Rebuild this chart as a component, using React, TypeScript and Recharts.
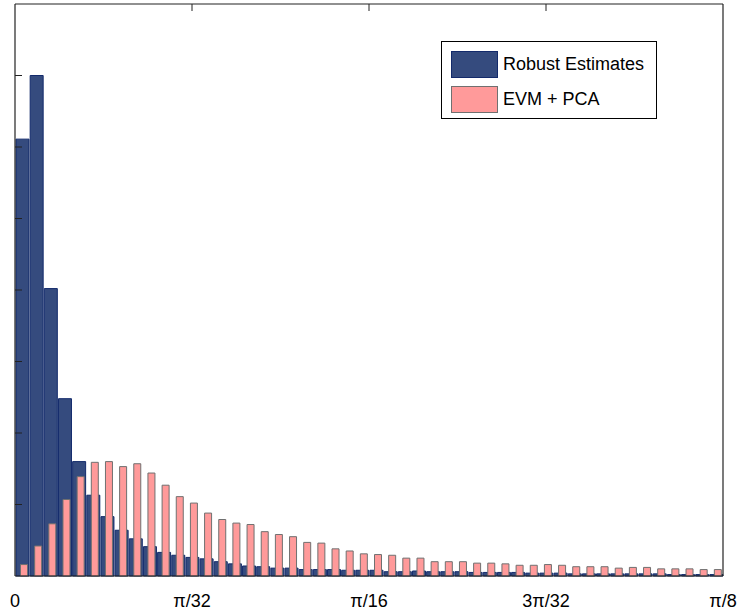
import { BarChart, Bar, XAxis, YAxis, Legend, Rectangle } from 'recharts';

// 50 histogram bins over [0, pi/8], positions given as bin-centre index
const BINS = [
  0.5, 1.5, 2.5, 3.5, 4.5, 5.5, 6.5, 7.5, 8.5, 9.5,
  10.5, 11.5, 12.5, 13.5, 14.5, 15.5, 16.5, 17.5, 18.5, 19.5,
  20.5, 21.5, 22.5, 23.5, 24.5, 25.5, 26.5, 27.5, 28.5, 29.5,
  30.5, 31.5, 32.5, 33.5, 34.5, 35.5, 36.5, 37.5, 38.5, 39.5,
  40.5, 41.5, 42.5, 43.5, 44.5, 45.5, 46.5, 47.5, 48.5, 49.5,
];

const ROBUST = [
  6.11, 7.0, 4.02, 2.48, 1.6, 1.13, 0.83, 0.64, 0.52, 0.41,
  0.33, 0.29, 0.26, 0.24, 0.2, 0.17, 0.14, 0.13, 0.11, 0.11,
  0.09, 0.09, 0.09, 0.08, 0.08, 0.08, 0.06, 0.06, 0.07, 0.06,
  0.06, 0.06, 0.05, 0.05, 0.05, 0.05, 0.04, 0.04, 0.04, 0.03,
  0.03, 0.03, 0.03, 0.03, 0.03, 0.03, 0.02, 0.02, 0.02, 0.02,
];

const EVM_PCA = [
  0.16, 0.42, 0.73, 1.07, 1.39, 1.59, 1.6, 1.53, 1.57, 1.44,
  1.27, 1.11, 1.02, 0.88, 0.79, 0.74, 0.72, 0.62, 0.58, 0.55,
  0.47, 0.46, 0.38, 0.35, 0.31, 0.3, 0.29, 0.25, 0.25, 0.2,
  0.2, 0.2, 0.18, 0.18, 0.17, 0.15, 0.15, 0.16, 0.15, 0.13,
  0.13, 0.13, 0.11, 0.12, 0.12, 0.1, 0.1, 0.1, 0.09, 0.09,
];

const X_TICKS = [0, 12.5, 25, 37.5, 50];
const X_LABELS = ['0', 'π/32', 'π/16', '3π/32', 'π/8'];
const Y_TICKS = [1, 2, 3, 4, 5, 6, 7];

const SERIES = [
  { name: 'Robust Estimates', fill: '#354b7e', stroke: '#132a6b' },
  { name: 'EVM + PCA', fill: '#ff9a9a', stroke: '#707070' },
];

const FONT = '"Liberation Sans", Arial, sans-serif';
const AXIS = '#222';

const data = BINS.map((bin, i) => ({ bin, robust: ROBUST[i], evm: EVM_PCA[i] }));

const noLabel = () => <g />;

// the pink bars sit a little right of centre in the original
const shiftedBar = (props: any) => <Rectangle {...props} x={props.x + 1.5} />;

function LegendBox() {
  return (
    <div
      style={{
        width: 214,
        height: 76,
        border: '1px solid #000',
        background: '#fff',
        fontFamily: FONT,
        fontSize: 18,
        color: '#000',
        boxSizing: 'content-box',
      }}
    >
      {SERIES.map((s, i) => (
        <div key={s.name} style={{ display: 'flex', alignItems: 'center', height: 35, marginTop: i === 0 ? 5 : 0 }}>
          <div
            style={{
              width: 45,
              height: 25,
              marginLeft: 9,
              marginRight: 5,
              background: s.fill,
              border: `1px solid ${s.stroke}`,
            }}
          />
          <span>{s.name}</span>
        </div>
      ))}
    </div>
  );
}

export default function App() {
  return (
    <div style={{ position: 'absolute', left: 0, top: 0 }}>
      <BarChart width={737} height={616} data={data} margin={{ top: 4, right: 14, bottom: 0, left: 15 }}>
        <XAxis
          xAxisId="bottom"
          dataKey="bin"
          type="number"
          domain={[0, 50]}
          ticks={X_TICKS}
          interval={0}
          height={40}
          axisLine={{ stroke: AXIS, strokeWidth: 1.2 }}
          tickLine={false}
          tickSize={7}
          tickMargin={11}
          tickFormatter={(v: number) => X_LABELS[X_TICKS.indexOf(v)] ?? ''}
          tick={{ fill: '#000', fontSize: 18, fontFamily: FONT }}
        />
        <XAxis
          xAxisId="top"
          dataKey="bin"
          type="number"
          orientation="top"
          mirror
          domain={[0, 50]}
          ticks={[12.5, 25, 37.5]}
          interval={0}
          axisLine={{ stroke: AXIS, strokeWidth: 1.2 }}
          tickLine={{ stroke: AXIS }}
          tickSize={7}
          tick={noLabel}
        />
        <YAxis
          yAxisId="left"
          domain={[0, 8]}
          ticks={Y_TICKS}
          interval={0}
          mirror
          axisLine={{ stroke: AXIS, strokeWidth: 1.2 }}
          tickLine={{ stroke: AXIS }}
          tickSize={7}
          tick={noLabel}
        />
        <YAxis
          yAxisId="right"
          orientation="right"
          domain={[0, 8]}
          ticks={Y_TICKS}
          interval={0}
          mirror
          axisLine={{ stroke: AXIS, strokeWidth: 1.2 }}
          tickLine={{ stroke: AXIS }}
          tickSize={7}
          tick={noLabel}
        />
        <Bar
          dataKey="robust"
          name={SERIES[0].name}
          xAxisId="bottom"
          yAxisId="left"
          barSize={13}
          fill={SERIES[0].fill}
          stroke={SERIES[0].stroke}
          strokeWidth={1}
          isAnimationActive={false}
        />
        <Bar
          dataKey="evm"
          name={SERIES[1].name}
          xAxisId="top"
          yAxisId="left"
          barSize={7}
          fill={SERIES[1].fill}
          stroke={SERIES[1].stroke}
          strokeWidth={1}
          shape={shiftedBar}
          isAnimationActive={false}
        />
        <Legend
          layout="vertical"
          align="center"
          verticalAlign="middle"
          content={() => <LegendBox />}
          wrapperStyle={{ left: 441, top: 41, width: 216, height: 78 }}
        />
      </BarChart>
    </div>
  );
}
